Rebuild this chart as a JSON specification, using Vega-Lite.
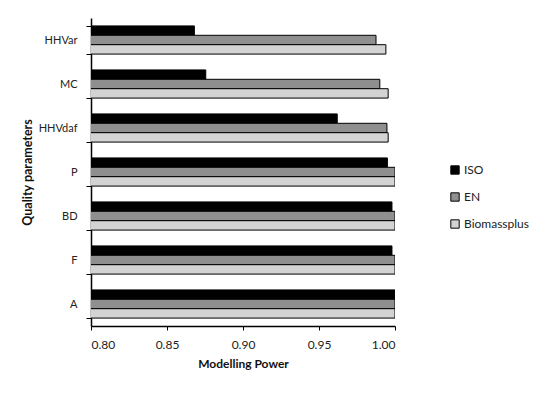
{
  "$schema": "https://vega.github.io/schema/vega-lite/v6.json",
  "width": 304,
  "height": 308,
  "autosize": {"type": "none"},
  "padding": {"left": 91, "top": 18, "right": 155, "bottom": 67},
  "background": "white",
  "config": {
    "view": {"stroke": null},
    "font": "Lato",
    "axis": {"labelFont": "Lato", "titleFont": "Lato", "labelColor": "#222", "titleColor": "#111", "domainColor": "#000", "tickColor": "#000", "grid": false},
    "legend": {"labelFont": "Lato"}
  },
  "data": {
    "values": [
      {"param": "HHVar", "std": "ISO", "v": 0.868},
      {"param": "HHVar", "std": "EN", "v": 0.9875},
      {"param": "HHVar", "std": "Biomassplus", "v": 0.994},
      {"param": "MC", "std": "ISO", "v": 0.8755},
      {"param": "MC", "std": "EN", "v": 0.990},
      {"param": "MC", "std": "Biomassplus", "v": 0.9955},
      {"param": "HHVdaf", "std": "ISO", "v": 0.962},
      {"param": "HHVdaf", "std": "EN", "v": 0.9947},
      {"param": "HHVdaf", "std": "Biomassplus", "v": 0.9955},
      {"param": "P", "std": "ISO", "v": 0.995},
      {"param": "P", "std": "EN", "v": 1.0},
      {"param": "P", "std": "Biomassplus", "v": 1.0},
      {"param": "BD", "std": "ISO", "v": 0.998},
      {"param": "BD", "std": "EN", "v": 1.0},
      {"param": "BD", "std": "Biomassplus", "v": 1.0},
      {"param": "F", "std": "ISO", "v": 0.998},
      {"param": "F", "std": "EN", "v": 1.0},
      {"param": "F", "std": "Biomassplus", "v": 1.0},
      {"param": "A", "std": "ISO", "v": 1.0},
      {"param": "A", "std": "EN", "v": 1.0},
      {"param": "A", "std": "Biomassplus", "v": 1.0}
    ]
  },
  "mark": {"type": "bar", "stroke": "#000", "strokeWidth": 1, "clip": true},
  "encoding": {
    "y": {
      "field": "param", "type": "nominal",
      "sort": ["HHVar", "MC", "HHVdaf", "P", "BD", "F", "A"],
      "scale": {"paddingInner": 0.36, "paddingOuter": 0.18},
      "axis": {"title": "Quality parameters", "titleFontSize": 12.5, "titleFontWeight": "bold", "titlePadding": 4, "labelFontSize": 11, "labelPadding": 9, "tickSize": 5, "tickBand": "extent", "domainWidth": 1.5}
    },
    "yOffset": {
      "field": "std", "type": "nominal",
      "sort": ["ISO", "EN", "Biomassplus"],
      "scale": {"paddingInner": 0, "paddingOuter": 0}
    },
    "x": {
      "field": "v", "type": "quantitative",
      "scale": {"domain": [0.8, 1.0], "nice": false, "zero": false},
      "axis": {"title": "Modelling Power", "titleFontSize": 12, "titleFontWeight": "bold", "titlePadding": 8, "labelFontSize": 12, "labelPadding": 9, "tickSize": 4, "values": [0.8, 0.85, 0.9, 0.95, 1.0], "format": ".2f", "domainWidth": 1.5}
    },
    "color": {
      "field": "std", "type": "nominal",
      "sort": ["ISO", "EN", "Biomassplus"],
      "scale": {"domain": ["ISO", "EN", "Biomassplus"], "range": ["#000000", "#8f8f8f", "#d3d3d3"]},
      "legend": {"title": null, "orient": "none", "legendX": 358, "legendY": 146, "symbolType": "square", "symbolSize": 70, "symbolStrokeColor": "#000", "symbolStrokeWidth": 1, "labelFontSize": 12, "labelColor": "#222", "rowPadding": 13, "labelOffset": 3, "padding": 0}
    }
  }
}
